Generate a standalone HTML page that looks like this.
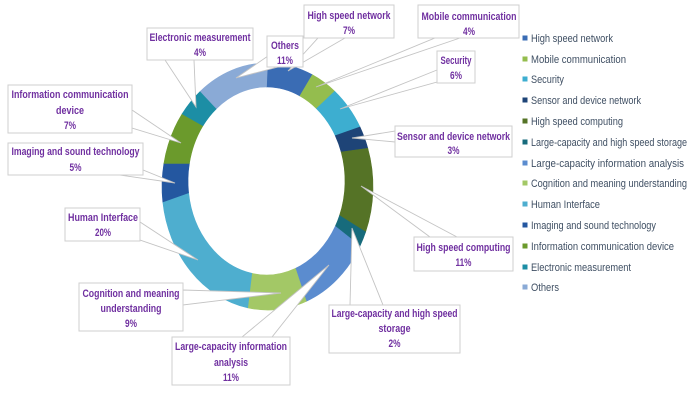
<!DOCTYPE html>
<html><head><meta charset="utf-8"><style>
html,body{margin:0;padding:0;background:#fff;}
svg{display:block;}
.l{font-family:"Liberation Sans",sans-serif;font-weight:bold;font-size:11px;fill:#7030a0;text-anchor:middle;}
.g{font-family:"Liberation Sans",sans-serif;font-size:11px;fill:#3f4f63;}
.bx{fill:#fff;stroke:#cfcfcf;stroke-width:1;}
.pt{fill:#fff;stroke:#c4c4c4;stroke-width:0.9;}
</style></head><body>
<svg width="700" height="400" viewBox="0 0 700 400" xmlns="http://www.w3.org/2000/svg">
<rect width="700" height="400" fill="#fff"/>
<g stroke-width="0.6">
<path fill="#3a6cb4" stroke="#3a6cb4" d="M267.5,63 A105.5,123.5 0 0 1 312.4,74.8 L299.9,96 A78.5,94 0 0 0 266.5,87 Z"/>
<path fill="#94bd4e" stroke="#94bd4e" d="M312.4,74.8 A105.5,123.5 0 0 1 334.7,91.3 L316.5,108.6 A78.5,94 0 0 0 299.9,96 Z"/>
<path fill="#3daed0" stroke="#3daed0" d="M334.7,91.3 A105.5,123.5 0 0 1 360,127 L335.3,135.7 A78.5,94 0 0 0 316.5,108.6 Z"/>
<path fill="#1e4477" stroke="#1e4477" d="M360,127 A105.5,123.5 0 0 1 367.8,148.3 L341.2,152 A78.5,94 0 0 0 335.3,135.7 Z"/>
<path fill="#557326" stroke="#557326" d="M367.8,148.3 A105.5,123.5 0 0 1 365.6,232 L339.5,215.6 A78.5,94 0 0 0 341.2,152 Z"/>
<path fill="#176b7c" stroke="#176b7c" d="M365.6,232 A105.5,123.5 0 0 1 360,246 L335.3,226.3 A78.5,94 0 0 0 339.5,215.6 Z"/>
<path fill="#5b8ccf" stroke="#5b8ccf" d="M360,246 A105.5,123.5 0 0 1 306.3,301.3 L295.4,268.4 A78.5,94 0 0 0 335.3,226.3 Z"/>
<path fill="#a3c866" stroke="#a3c866" d="M306.3,301.3 A105.5,123.5 0 0 1 247.7,307.8 L251.8,273.3 A78.5,94 0 0 0 295.4,268.4 Z"/>
<path fill="#4eaecf" stroke="#4eaecf" d="M247.7,307.8 A105.5,123.5 0 0 1 162.8,202 L188.6,192.8 A78.5,94 0 0 0 251.8,273.3 Z"/>
<path fill="#2457a0" stroke="#2457a0" d="M162.8,202 A105.5,123.5 0 0 1 163.9,163.4 L189.4,163.4 A78.5,94 0 0 0 188.6,192.8 Z"/>
<path fill="#6b9a2c" stroke="#6b9a2c" d="M163.9,163.4 A105.5,123.5 0 0 1 182.1,113.9 L203,125.7 A78.5,94 0 0 0 189.4,163.4 Z"/>
<path fill="#1c8ea5" stroke="#1c8ea5" d="M182.1,113.9 A105.5,123.5 0 0 1 200.3,91.3 L216.5,108.6 A78.5,94 0 0 0 203,125.7 Z"/>
<path fill="#8aaad6" stroke="#8aaad6" d="M200.3,91.3 A105.5,123.5 0 0 1 267.5,63 L266.5,87 A78.5,94 0 0 0 216.5,108.6 Z"/>
</g>
<polygon class="pt" points="318,38 345,38 288,71"/>
<polygon class="pt" points="435,38 460,38 316,87"/>
<polygon class="pt" points="437,70 437,82 340,109"/>
<polygon class="pt" points="395,131 395,142 352,138"/>
<polygon class="pt" points="430,237 457,237 361,186"/>
<polygon class="pt" points="350,305 383,305 352,228"/>
<polygon class="pt" points="242,337 272,337 329,265"/>
<polygon class="pt" points="183,290 183,305 281,293"/>
<polygon class="pt" points="140,222 140,240 198,260"/>
<polygon class="pt" points="120,175 143,170 175,183"/>
<polygon class="pt" points="132,110 132,128 181,143"/>
<polygon class="pt" points="165,60 194,60 196,107"/>
<polygon class="pt" points="268,56 278,67 236,78"/>
<rect class="bx" x="304" y="5" width="90" height="33"/>
<rect class="bx" x="418" y="5" width="101" height="33"/>
<rect class="bx" x="437" y="51" width="38" height="32"/>
<rect class="bx" x="395" y="126" width="117" height="31"/>
<rect class="bx" x="414" y="237" width="99" height="34"/>
<rect class="bx" x="329" y="305" width="131" height="48"/>
<rect class="bx" x="172" y="337" width="118" height="48"/>
<rect class="bx" x="79" y="283" width="104" height="48"/>
<rect class="bx" x="65" y="208" width="75" height="33"/>
<rect class="bx" x="8" y="143" width="135" height="32"/>
<rect class="bx" x="8" y="85" width="124" height="48"/>
<rect class="bx" x="147" y="28" width="106" height="32"/>
<rect class="bx" x="267" y="36" width="36" height="31"/>
<text class="l" x="349" y="19" textLength="83" lengthAdjust="spacingAndGlyphs">High speed network</text>
<text class="l" x="349" y="34" textLength="12" lengthAdjust="spacingAndGlyphs">7%</text>
<text class="l" x="469" y="20" textLength="95" lengthAdjust="spacingAndGlyphs">Mobile communication</text>
<text class="l" x="469" y="35" textLength="12" lengthAdjust="spacingAndGlyphs">4%</text>
<text class="l" x="456" y="64" textLength="31" lengthAdjust="spacingAndGlyphs">Security</text>
<text class="l" x="456" y="79" textLength="12" lengthAdjust="spacingAndGlyphs">6%</text>
<text class="l" x="453.5" y="140" textLength="113" lengthAdjust="spacingAndGlyphs">Sensor and device network</text>
<text class="l" x="453.5" y="154" textLength="12" lengthAdjust="spacingAndGlyphs">3%</text>
<text class="l" x="463.5" y="251" textLength="94" lengthAdjust="spacingAndGlyphs">High speed computing</text>
<text class="l" x="463.5" y="266" textLength="16" lengthAdjust="spacingAndGlyphs">11%</text>
<text class="l" x="394.5" y="317" textLength="126" lengthAdjust="spacingAndGlyphs">Large-capacity and high speed</text>
<text class="l" x="394.5" y="332" textLength="32" lengthAdjust="spacingAndGlyphs">storage</text>
<text class="l" x="394.5" y="347" textLength="12" lengthAdjust="spacingAndGlyphs">2%</text>
<text class="l" x="231" y="350" textLength="112" lengthAdjust="spacingAndGlyphs">Large-capacity information</text>
<text class="l" x="231" y="366" textLength="34" lengthAdjust="spacingAndGlyphs">analysis</text>
<text class="l" x="231" y="381" textLength="16" lengthAdjust="spacingAndGlyphs">11%</text>
<text class="l" x="131" y="297" textLength="97" lengthAdjust="spacingAndGlyphs">Cognition and meaning</text>
<text class="l" x="131" y="312" textLength="61" lengthAdjust="spacingAndGlyphs">understanding</text>
<text class="l" x="131" y="327" textLength="12" lengthAdjust="spacingAndGlyphs">9%</text>
<text class="l" x="103" y="221" textLength="70" lengthAdjust="spacingAndGlyphs">Human Interface</text>
<text class="l" x="103" y="236" textLength="16" lengthAdjust="spacingAndGlyphs">20%</text>
<text class="l" x="75.5" y="155" textLength="128" lengthAdjust="spacingAndGlyphs">Imaging and sound technology</text>
<text class="l" x="75.5" y="171" textLength="12" lengthAdjust="spacingAndGlyphs">5%</text>
<text class="l" x="70" y="98" textLength="117" lengthAdjust="spacingAndGlyphs">Information communication</text>
<text class="l" x="70" y="114" textLength="28" lengthAdjust="spacingAndGlyphs">device</text>
<text class="l" x="70" y="129" textLength="12" lengthAdjust="spacingAndGlyphs">7%</text>
<text class="l" x="200" y="41" textLength="101" lengthAdjust="spacingAndGlyphs">Electronic measurement</text>
<text class="l" x="200" y="56" textLength="12" lengthAdjust="spacingAndGlyphs">4%</text>
<text class="l" x="285" y="49" textLength="28" lengthAdjust="spacingAndGlyphs">Others</text>
<text class="l" x="285" y="64" textLength="16" lengthAdjust="spacingAndGlyphs">11%</text>
<rect x="522.5" y="35.5" width="5" height="5" fill="#3a6cb4"/>
<text class="g" x="531" y="42" textLength="82" lengthAdjust="spacingAndGlyphs">High speed network</text>
<rect x="522.5" y="56.5" width="5" height="5" fill="#94bd4e"/>
<text class="g" x="531" y="63" textLength="95" lengthAdjust="spacingAndGlyphs">Mobile communication</text>
<rect x="522.5" y="76.5" width="5" height="5" fill="#3daed0"/>
<text class="g" x="531" y="83" textLength="33" lengthAdjust="spacingAndGlyphs">Security</text>
<rect x="522.5" y="97.5" width="5" height="5" fill="#1e4477"/>
<text class="g" x="531" y="104" textLength="110" lengthAdjust="spacingAndGlyphs">Sensor and device network</text>
<rect x="522.5" y="118.5" width="5" height="5" fill="#557326"/>
<text class="g" x="531" y="125" textLength="92" lengthAdjust="spacingAndGlyphs">High speed computing</text>
<rect x="522.5" y="139.5" width="5" height="5" fill="#176b7c"/>
<text class="g" x="531" y="146" textLength="156" lengthAdjust="spacingAndGlyphs">Large-capacity and high speed storage</text>
<rect x="522.5" y="160.5" width="5" height="5" fill="#5b8ccf"/>
<text class="g" x="531" y="167" textLength="153" lengthAdjust="spacingAndGlyphs">Large-capacity information analysis</text>
<rect x="522.5" y="180.5" width="5" height="5" fill="#a3c866"/>
<text class="g" x="531" y="187" textLength="156" lengthAdjust="spacingAndGlyphs">Cognition and meaning understanding</text>
<rect x="522.5" y="201.5" width="5" height="5" fill="#4eaecf"/>
<text class="g" x="531" y="208" textLength="69" lengthAdjust="spacingAndGlyphs">Human Interface</text>
<rect x="522.5" y="222.5" width="5" height="5" fill="#2457a0"/>
<text class="g" x="531" y="229" textLength="125" lengthAdjust="spacingAndGlyphs">Imaging and sound technology</text>
<rect x="522.5" y="243.5" width="5" height="5" fill="#6b9a2c"/>
<text class="g" x="531" y="250" textLength="143" lengthAdjust="spacingAndGlyphs">Information communication device</text>
<rect x="522.5" y="264.5" width="5" height="5" fill="#1c8ea5"/>
<text class="g" x="531" y="271" textLength="100" lengthAdjust="spacingAndGlyphs">Electronic measurement</text>
<rect x="522.5" y="284.5" width="5" height="5" fill="#8aaad6"/>
<text class="g" x="531" y="291" textLength="28" lengthAdjust="spacingAndGlyphs">Others</text>
</svg>
</body></html>
